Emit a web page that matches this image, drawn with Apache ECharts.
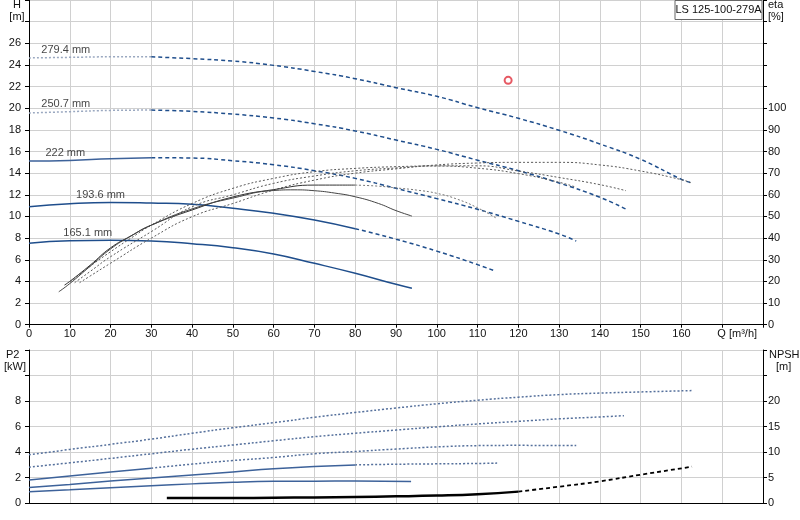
<!DOCTYPE html>
<html><head><meta charset="utf-8">
<script src="https://cdn.jsdelivr.net/npm/echarts@6/dist/echarts.min.js"></script>
<style>html,body{margin:0;padding:0;background:#fff}#c{width:800px;height:520px}</style>
</head><body><div id="c"></div>
<script>
// ---- data (Q in m3/h) ----
const diameters = ['279.4 mm','250.7 mm','222 mm','193.6 mm','165.1 mm'];
const title = 'LS 125-100-279A';
// Head H [m]
const h279 = [[0,24.65],[10,24.7],[20,24.75],[30,24.75],[40,24.58],[50,24.36],[60,23.96],[70,23.4],[80,22.73],[90,21.9],[100,21.1],[110,20.05],[120,19.07],[130,17.96],[140,16.7],[150,15.28],[160,13.43],[162.5,13.1]];
const h250 = [[0,19.56],[10,19.68],[20,19.8],[30,19.83],[40,19.71],[50,19.46],[60,19.1],[70,18.57],[80,17.9],[90,17.06],[100,16.2],[110,15.2],[120,14.23],[130,13.09],[140,11.77],[146.5,10.66]];
const h222 = [[0,15.12],[10,15.18],[20,15.33],[30,15.43],[40,15.4],[50,15.15],[60,14.78],[70,14.23],[80,13.52],[90,12.6],[100,11.65],[110,10.66],[120,9.55],[130,8.38],[134.2,7.73]];
const h193 = [[0,10.9],[10,11.18],[20,11.3],[30,11.24],[40,11.12],[50,10.75],[60,10.29],[70,9.67],[80,8.87],[90,7.9],[100,6.8],[110,5.55],[114.3,4.96]];
const h165 = [[0,7.52],[10,7.76],[20,7.8],[30,7.73],[40,7.48],[50,7.11],[60,6.53],[70,5.67],[80,4.75],[90,3.73],[93.9,3.36]];
// Efficiency eta [%]
const e279 = [[12.4,19.4],[15,22.5],[20,28.4],[30,40],[40,49.9],[50,56],[60,62.2],[70,66.8],[80,70],[90,72],[100,73.8],[110,74.7],[120,75],[130,75],[140,73.8],[150,71],[160,67],[162.3,65.6]];
const e250 = [[11.2,19.4],[15,24.6],[20,31.4],[30,43],[40,54.5],[50,60],[60,65.3],[70,68.7],[80,71.1],[90,72.4],[100,73.4],[110,73.4],[120,71],[130,68],[140,64.7],[146.4,61.9]];
const e222 = [[10.1,19.8],[15,27],[20,33.7],[25,40],[30,46],[40,56],[50,63],[60,67.6],[70,70.7],[80,72.2],[90,73],[100,73.3],[110,72.3],[120,69.8],[130,65.8],[134.2,63.5]];
const e193 = [[8.7,18.3],[10,20],[15,27.5],[20,35.5],[25,41],[30,46],[40,53],[50,59],[60,62.4],[70,64.5],[80,64.5],[85.7,64],[90,63.2],[95,62.2],[100,60.7],[105,58],[110,54],[114.7,49.1]];
const e165 = [[7.3,15.2],[10,19],[15,27],[20,35],[25,41],[30,46],[40,53.5],[50,58.5],[60,62],[65,62.3],[70,61.9],[75,60.8],[80,59.1],[85.7,56],[90,52.7],[93.9,50.2]];
// Power P2 [kW]
const p279 = [[0,3.78],[10,4.2],[20,4.6],[30,5.01],[40,5.47],[50,5.9],[60,6.3],[70,6.72],[80,7.1],[90,7.45],[100,7.78],[110,8.06],[120,8.3],[130,8.5],[140,8.62],[150,8.71],[162.8,8.82]];
const p250 = [[0,2.81],[10,3.15],[20,3.5],[30,3.86],[40,4.22],[50,4.55],[60,4.88],[70,5.2],[80,5.47],[90,5.72],[100,5.97],[110,6.2],[120,6.4],[130,6.6],[140,6.75],[145.9,6.85]];
const p222 = [[0,1.81],[10,2.12],[20,2.43],[30,2.73],[40,3.05],[50,3.33],[60,3.57],[70,3.86],[80,4.04],[90,4.23],[100,4.4],[110,4.5],[120,4.52],[134.2,4.51]];
const p193 = [[0,1.21],[10,1.46],[20,1.72],[30,1.96],[40,2.2],[50,2.44],[60,2.68],[70,2.86],[80,2.99],[90,3.04],[100,3.07],[110,3.1],[114.8,3.13]];
const p165 = [[0,0.89],[10,1.04],[20,1.2],[30,1.36],[40,1.5],[50,1.63],[60,1.7],[70,1.71],[80,1.72],[93.7,1.68]];
// NPSH [m]
const npsh = [[33.8,1.0],[40,0.98],[50,0.97],[60,1.02],[70,1.1],[80,1.2],[90,1.3],[100,1.45],[110,1.72],[120,2.23],[130,3.2],[140,4.25],[150,5.55],[162.6,7.12]];
// duty point
const duty = [[117.5,22.58]];

// ---- styles ----
const FONT = 'Liberation Sans, Arial, sans-serif';
const DARK = '#1f4e8c', LIGHT = '#9aa8c0', MID = '#3d629a';
const seg = (d, a, b) => d.filter(p => p[0] >= a && p[0] <= b);
function line(data, x, y, color, type, width) {
  return { type:'line', xAxisIndex:x, yAxisIndex:y, data, smooth:true, symbol:'none', silent:true,
    lineStyle:{color, type, width}, z:3 };
}
const series = [];
// head curves
series.push(line(seg(h279,0,30),0,0,LIGHT,[2,2],1.5), line(seg(h279,30,999),0,0,DARK,[4,3],1.5));
series.push(line(seg(h250,0,30),0,0,LIGHT,[2,2],1.5), line(seg(h250,30,999),0,0,DARK,[4,3],1.5));
series.push(line(seg(h222,0,30),0,0,MID,'solid',1.5), line(seg(h222,30,999),0,0,DARK,[4,3],1.5));
series.push(line(seg(h193,0,80),0,0,DARK,'solid',1.5), line(seg(h193,80,999),0,0,DARK,[4,3],1.5));
series.push(line(h165,0,0,DARK,'solid',1.5));
// eta curves
series.push(line(e279,0,1,'#5a5a5a',[2,2],1), line(e250,0,1,'#5a5a5a',[2,2],1), line(e222,0,1,'#5a5a5a',[2,2],1));
series.push(line(seg(e193,0,80),0,1,'#333','solid',1), line(seg(e193,80,999),0,1,'#777',[2,2],1));
series.push(line(e165,0,1,'#444','solid',1));
// P2 curves
const PD = '#55709c';
series.push(line(p279,1,2,PD,[2,2],1.5), line(p250,1,2,PD,[2,2],1.5));
series.push(line(seg(p222,0,30),1,2,MID,'solid',1.5), line(seg(p222,30,999),1,2,PD,[2,2],1.5));
series.push(line(seg(p193,0,80),1,2,MID,'solid',1.5), line(seg(p193,80,999),1,2,PD,[2,2],1.5));
series.push(line(p165,1,2,MID,'solid',1.5));
// NPSH
series.push(line(seg(npsh,0,120),1,3,'#000','solid',2.5), line(seg(npsh,120,999),1,3,'#000',[4,3],1.8));
// duty point
series.push({type:'scatter', xAxisIndex:0, yAxisIndex:0, data:duty, symbol:'emptyCircle', symbolSize:7,
  itemStyle:{color:'#e0303c', borderColor:'#e0303c', borderWidth:1}, silent:true, z:5});
// diameter labels attached to curve points
const heads = [h279,h250,h222,h193,h165];
const lblIdx = [1,1,1,2,1];
const lblOff = [[-4,0],[-4,0],[-4.5,0],[-10,0],[18,0]];
series.push({type:'scatter', xAxisIndex:0, yAxisIndex:0, symbolSize:0, silent:true, z:6,
  data: heads.map((h,i)=>({value:h[lblIdx[i]], name:diameters[i],
    label:{show:true, position:'top', distance:2, offset:lblOff[i], formatter:'{b}', color:'#111', fontSize:11, fontFamily:FONT}}))});

const axisLineK = {show:true, lineStyle:{color:'#000', width:1}};
const split = {show:true, lineStyle:{color:'#d0d0d0', width:1}};
const lab = {color:'#111', fontSize:11, fontFamily:FONT};

const option = {
  animation:false,
  backgroundColor:'#fff',
  grid:[
    {left:29, right:37, top:0, height:324.7},
    {left:29, right:37, top:350, height:153}
  ],
  xAxis:[
    {type:'value', gridIndex:0, min:0, max:180, interval:10, axisLine:axisLineK,
     axisTick:{show:true, length:3, lineStyle:{color:'#000'}}, splitLine:split,
     axisLabel:Object.assign({}, lab, {margin:4, showMaxLabel:true,
       formatter:v => v<=160 ? String(v) : (v===170 ? '{q|Q [m³/h]}' : ''),
       rich:{q:{padding:[0,0,0,30], fontSize:11, fontFamily:FONT, color:'#111'}}})},
    {type:'value', gridIndex:1, min:0, max:180, interval:10, axisLine:axisLineK,
     axisTick:{show:false}, axisLabel:{show:false}, splitLine:split}
  ],
  yAxis:[
    {type:'value', gridIndex:0, min:0, max:30, interval:2, axisLine:axisLineK,
     axisTick:{show:true, length:4, lineStyle:{color:'#000'}}, splitLine:split,
     axisLabel:Object.assign({}, lab, {margin:8, formatter:v => v<=26 ? String(v) : ''})},
    {type:'value', gridIndex:0, position:'right', min:0, max:150, interval:10, axisLine:axisLineK,
     axisTick:{show:true, length:4, lineStyle:{color:'#000'}}, splitLine:{show:false},
     axisLabel:Object.assign({}, lab, {margin:5, formatter:v => v<=100 ? String(v) : ''})},
    {type:'value', gridIndex:1, min:0, max:12, interval:2, axisLine:axisLineK,
     axisTick:{show:true, length:4, lineStyle:{color:'#000'}}, splitLine:split,
     axisLabel:Object.assign({}, lab, {margin:8, formatter:v => v<=8 ? String(v) : ''})},
    {type:'value', gridIndex:1, position:'right', min:0, max:30, interval:5, axisLine:axisLineK,
     axisTick:{show:true, length:4, lineStyle:{color:'#000'}}, splitLine:{show:false},
     axisLabel:Object.assign({}, lab, {margin:5, formatter:v => v<=20 ? String(v) : ''})}
  ],
  graphic:[
    {type:'rect', shape:{x:675, y:0.5, width:87, height:19}, style:{fill:'#fff', stroke:'#666', lineWidth:1}, z:10},
    {type:'text', x:718.5, y:10, style:{text:title, fill:'#111', font:'11px '+FONT, textAlign:'center', textVerticalAlign:'middle'}, z:11},
    {type:'text', x:17, y:5, style:{text:'H', fill:'#111', font:'11px '+FONT, textAlign:'center', textVerticalAlign:'middle'}},
    {type:'text', x:17, y:17, style:{text:'[m]', fill:'#111', font:'11px '+FONT, textAlign:'center', textVerticalAlign:'middle'}},
    {type:'text', x:768, y:5, style:{text:'eta', fill:'#111', font:'11px '+FONT, textAlign:'left', textVerticalAlign:'middle'}},
    {type:'text', x:768, y:17, style:{text:'[%]', fill:'#111', font:'11px '+FONT, textAlign:'left', textVerticalAlign:'middle'}},
    {type:'text', x:6, y:355, style:{text:'P2', fill:'#111', font:'11px '+FONT, textAlign:'left', textVerticalAlign:'middle'}},
    {type:'text', x:4, y:367, style:{text:'[kW]', fill:'#111', font:'11px '+FONT, textAlign:'left', textVerticalAlign:'middle'}},
    {type:'text', x:769, y:355, style:{text:'NPSH', fill:'#111', font:'11px '+FONT, textAlign:'left', textVerticalAlign:'middle'}},
    {type:'text', x:776, y:367, style:{text:'[m]', fill:'#111', font:'11px '+FONT, textAlign:'left', textVerticalAlign:'middle'}}
  ],
  series
};
echarts.init(document.getElementById('c'), null, {renderer:'canvas'}).setOption(option);
</script>
</body></html>
